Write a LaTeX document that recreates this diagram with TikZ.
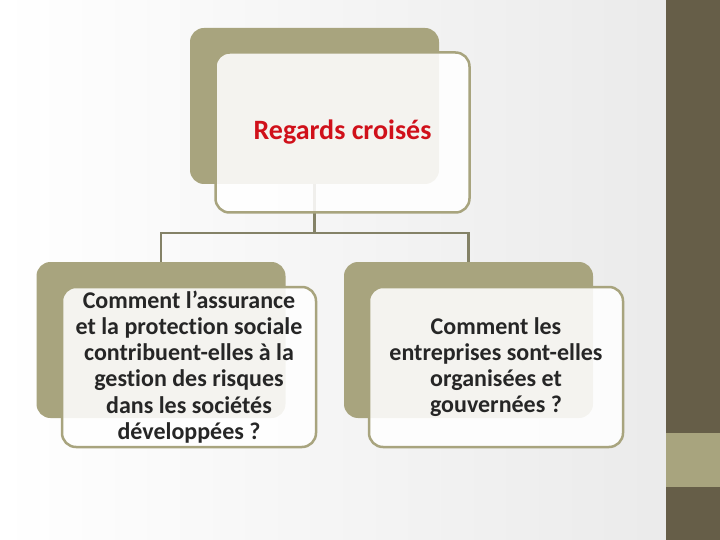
\documentclass[tikz,border=0pt]{standalone}
\usepackage{fontspec}
\setmainfont[Ligatures={NoCommon}]{Carlito}
\definecolor{olivedark}{HTML}{665E48}
\definecolor{khaki}{HTML}{A8A47E}
\definecolor{linkgray}{HTML}{848267}
\definecolor{titlered}{HTML}{D0101A}
\definecolor{textgray}{HTML}{262626}
\begin{document}
\begin{tikzpicture}[x=1pt,y=-1pt,
    backbox/.style={fill=khaki,rounded corners=14pt,minimum width=249pt,minimum height=156pt,inner sep=0pt},
    frontbox/.style={draw=khaki,line width=2.5pt,fill=white,fill opacity=0.88,text opacity=1,
        rounded corners=14pt,minimum width=254pt,minimum height=160pt,inner sep=0pt,align=center,
        font=\bfseries\fontsize{24}{26.2}\selectfont,text=textgray},
    link/.style={draw=linkgray,line width=2.4pt}]
            \useasboundingbox (0,0) rectangle (720,540);
            % background and side band
            \shade[left color=white,right color=black!8] (0,0) rectangle (666,540);
            \fill[olivedark] (666,0) rectangle (720,540);
            \fill[khaki] (666,433) rectangle (720,487);
            % back boxes
            \node[backbox] (topback) at (314.5,106) {};
            \node[backbox] (leftback) at (161,340) {};
            \node[backbox] (rightback) at (468.5,340) {};
            % tree lines
            \draw[link] (topback.south) -- ++(0,49) -| (leftback.north);
            \draw[link] (topback.south) -- ++(0,49) -| (rightback.north);
            % front boxes
            \node[frontbox,text=titlered,font=\bfseries\fontsize{28}{30}\selectfont] (topfront) at (342.5,132.5) {Regards croisés};
            \node[frontbox] (leftfront) at (189,367) {Comment l’assurance\\et la protection sociale\\contribuent-elles à la\\gestion des risques\\dans les sociétés\\développées ?};
            \node[frontbox] (rightfront) at (496,367) {Comment les\\entreprises sont-elles\\organisées et\\gouvernées ?};
\end{tikzpicture}
\end{document}
